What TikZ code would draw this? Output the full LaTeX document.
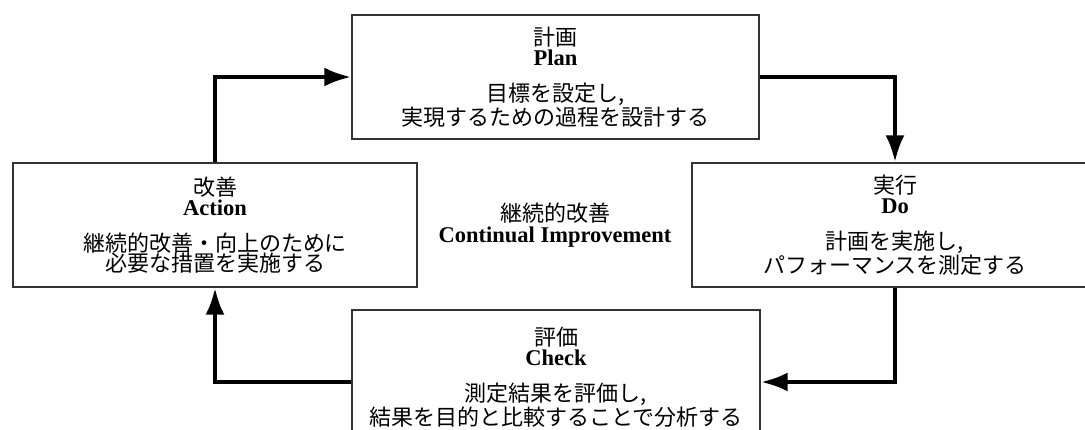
\documentclass[tikz,border=0pt]{standalone}
\usepackage{fontspec}
\setmainfont{Liberation Serif}
\newfontfamily\jp{Noto Sans CJK JP}
\usetikzlibrary{arrows.meta}
\tikzset{
  x=1pt, y=-1pt,
  box/.style={draw=black!80, line width=1.3pt, fill=white, rectangle,
    minimum height=124pt, align=center, inner sep=0pt,
    font=\fontsize{22}{20.5}\selectfont},
  flow/.style={line width=4.5pt, -{Latex[length=27pt,width=19pt]}}
}
\newcommand{\ttl}[1]{{\jp #1}}
\newcommand{\eng}[1]{{\fontsize{22.5}{20.5}\selectfont\bfseries #1}}
\begin{document}
\begin{tikzpicture}
\useasboundingbox (0,0) rectangle (1085,430);
\fill[white] (0,0) rectangle (1085,430);
\clip (0,0) rectangle (1085,430);

\node[box, minimum width=407pt] (plan) at (555.5,77)
  {\ttl{計画}\\ \eng{Plan}\\[15pt] \jp 目標を設定し,\\ \jp 実現するための過程を設計する};
\node[box, minimum width=404pt] (act) at (215,225)
  {\ttl{改善}\\ \eng{Action}\\[15pt] \jp 継続的改善・向上のために\\ \jp 必要な措置を実施する};
\node[box, minimum width=406pt] (do) at (895,225)
  {\ttl{実行}\\ \eng{Do}\\[15pt] \jp 計画を実施し,\\ \jp パフォーマンスを測定する};
\node[box, minimum width=408pt, minimum height=134pt] (chk) at (556,377)
  {\ttl{評価}\\ \eng{Check}\\[15pt] \jp 測定結果を評価し,\\ \jp 結果を目的と比較することで分析する};

\node[align=center, inner sep=0pt, font=\fontsize{22}{21}\selectfont] (ci) at (555,225)
  {\jp 継続的改善\\ \eng{Continual Improvement}};

\draw[flow] (act.north) |- (plan.west);
\draw[flow] (plan.east) -| (do.north);
\draw[flow] (do.south) |- ([yshift=-5pt]chk.east);
\draw[flow] ([yshift=-5pt]chk.west) -| (act.south);
\end{tikzpicture}
\end{document}
